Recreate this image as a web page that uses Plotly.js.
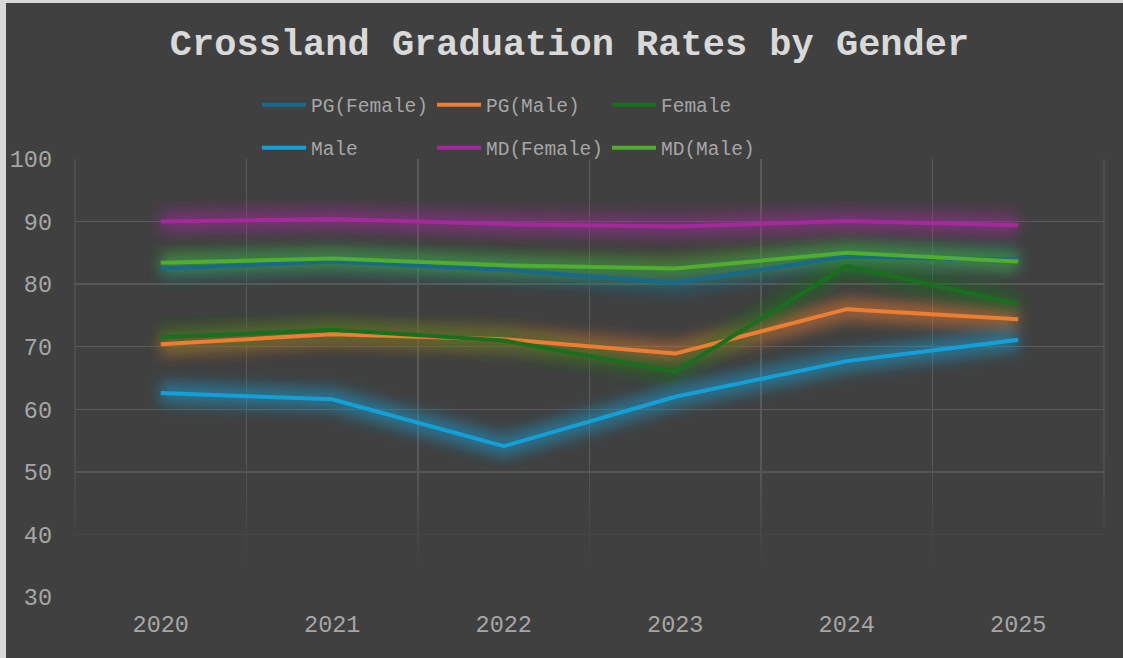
<!DOCTYPE html>
<html>
<head>
<meta charset="utf-8">
<script src="https://cdn.plot.ly/plotly-3.0.1.min.js"></script>
<style>
  html, body { margin: 0; padding: 0; background: #d9d9d9; width: 1123px; height: 658px; overflow: hidden; }
  #chart { position: absolute; left: 6px; top: 3px; width: 1117px; height: 655px; }
</style>
</head>
<body>
<div id="chart"></div>
<script>
// ---- data ----
const years = ["2020", "2021", "2022", "2023", "2024", "2025"];
const pgFemale = [82.5, 83.6, 82.3, 80.2, 84.4, 83.9];
const pgMale   = [70.4, 72.0, 71.2, 68.9, 76.0, 74.4];
const female   = [71.5, 72.7, 71.0, 66.0, 82.9, 76.8];
const male     = [62.6, 61.6, 54.1, 62.0, 67.7, 71.1];
const mdFemale = [90.0, 90.4, 89.6, 89.2, 90.1, 89.4];
const mdMale   = [83.4, 84.1, 83.0, 82.5, 85.0, 83.6];

const seriesNames = ["PG(Female)", "PG(Male)", "Female", "Male", "MD(Female)", "MD(Male)"];
const seriesData = [pgFemale, pgMale, female, male, mdFemale, mdMale];
const seriesColors = ["#18698a", "#ed7d31", "#18701e", "#12a0d7", "#a5299c", "#4fad2f"];
const legendOf = ["legend", "legend", "legend", "legend2", "legend2", "legend2"];

const FONT = "'Courier New', 'Liberation Mono', monospace";

const traces = [];
// glow layers (blurred after render)
seriesData.forEach((ys, i) => {
  traces.push({x: years, y: ys, type: "scatter", mode: "lines", showlegend: false, hoverinfo: "skip",
    line: {color: seriesColors[i], width: 22}, opacity: 0.5});
});
// main lines
seriesData.forEach((ys, i) => {
  traces.push({x: years, y: ys, type: "scatter", mode: "lines", name: seriesNames[i],
    legend: legendOf[i], line: {color: seriesColors[i], width: 4}});
});

const fadeSvg = '<svg xmlns="http://www.w3.org/2000/svg" width="100" height="100" viewBox="0 0 100 100" preserveAspectRatio="none">' +
  '<defs><linearGradient id="g" x1="0" y1="0" x2="0" y2="1">' +
  '<stop offset="0" stop-color="#404040" stop-opacity="0"/>' +
  '<stop offset="0.75" stop-color="#404040" stop-opacity="1"/>' +
  '<stop offset="1" stop-color="#404040" stop-opacity="1"/>' +
  '</linearGradient></defs><rect x="0" y="0" width="100" height="100" fill="url(#g)"/></svg>';

const legendCommon = {
  orientation: "h", xref: "container", yref: "container", xanchor: "left", yanchor: "middle",
  bgcolor: "rgba(0,0,0,0)", font: {family: FONT, size: 19.5, color: "#a6a6a6"},
  entrywidth: 116, entrywidthmode: "pixels", itemwidth: 44, traceorder: "normal"
};

const frameLine = {color: "#555555", width: 1.3};

const layout = {
  width: 1117, height: 655,
  paper_bgcolor: "#404040", plot_bgcolor: "#404040",
  margin: {l: 69, r: 19, t: 156, b: 61, autoexpand: false},
  title: {text: "Crossland Graduation Rates by Gender", x: 0.5045, xanchor: "center",
    xref: "container", yref: "container", y: 1 - 39 / 655, yanchor: "middle",
    font: {family: FONT, size: 37, color: "#d9d9d9", weight: "bold"}},
  xaxis: {type: "category", tickson: "boundaries", showgrid: true, gridcolor: "#595959", gridwidth: 1.3,
    ticks: "", showline: false, zeroline: false, range: [-0.5, 5.5],
    tickfont: {family: FONT, size: 23.5, color: "#a6a6a6"}, ticklabelstandoff: 10},
  yaxis: {range: [30, 100], dtick: 10, showgrid: true, gridcolor: "#595959", gridwidth: 1.3,
    ticks: "", showline: false, zeroline: false,
    tickfont: {family: FONT, size: 23.5, color: "#a6a6a6"}, ticklabelstandoff: 22},
  legend: Object.assign({}, legendCommon, {x: 251 / 1117, y: 1 - 102 / 655}),
  legend2: Object.assign({}, legendCommon, {x: 251 / 1117, y: 1 - 145 / 655}),
  shapes: [
    {type: "line", xref: "paper", yref: "y", x0: 0, x1: 0, y0: 41, y1: 100, line: frameLine, layer: "below"},
    {type: "line", xref: "paper", yref: "y", x0: 1, x1: 1, y0: 41, y1: 100, line: frameLine, layer: "below"}
  ],
  images: [{source: "data:image/svg+xml;charset=utf-8," + encodeURIComponent(fadeSvg),
    xref: "paper", yref: "y", x: -0.005, y: 52.5, sizex: 1.01, sizey: 23, sizing: "stretch",
    xanchor: "left", yanchor: "top", layer: "above"}],
  showlegend: true
};

Plotly.newPlot("chart", traces, layout, {displayModeBar: false, staticPlot: true}).then(function (gd) {
  const svg = gd.querySelector("svg.main-svg");
  const NS = "http://www.w3.org/2000/svg";
  let defs = svg.querySelector("defs");
  if (!defs) { defs = document.createElementNS(NS, "defs"); svg.insertBefore(defs, svg.firstChild); }
  const f = document.createElementNS(NS, "filter");
  f.setAttribute("id", "glowblur");
  f.setAttribute("filterUnits", "userSpaceOnUse");
  f.setAttribute("x", "-200"); f.setAttribute("y", "-200");
  f.setAttribute("width", "2000"); f.setAttribute("height", "1200");
  const b = document.createElementNS(NS, "feGaussianBlur");
  b.setAttribute("stdDeviation", "7");
  f.appendChild(b);
  defs.appendChild(f);
  const traceGroups = gd.querySelectorAll(".scatterlayer .trace");
  traceGroups.forEach(function (g, idx) {
    if (idx < seriesData.length) g.setAttribute("filter", "url(#glowblur)");
  });
});
</script>
</body>
</html>
